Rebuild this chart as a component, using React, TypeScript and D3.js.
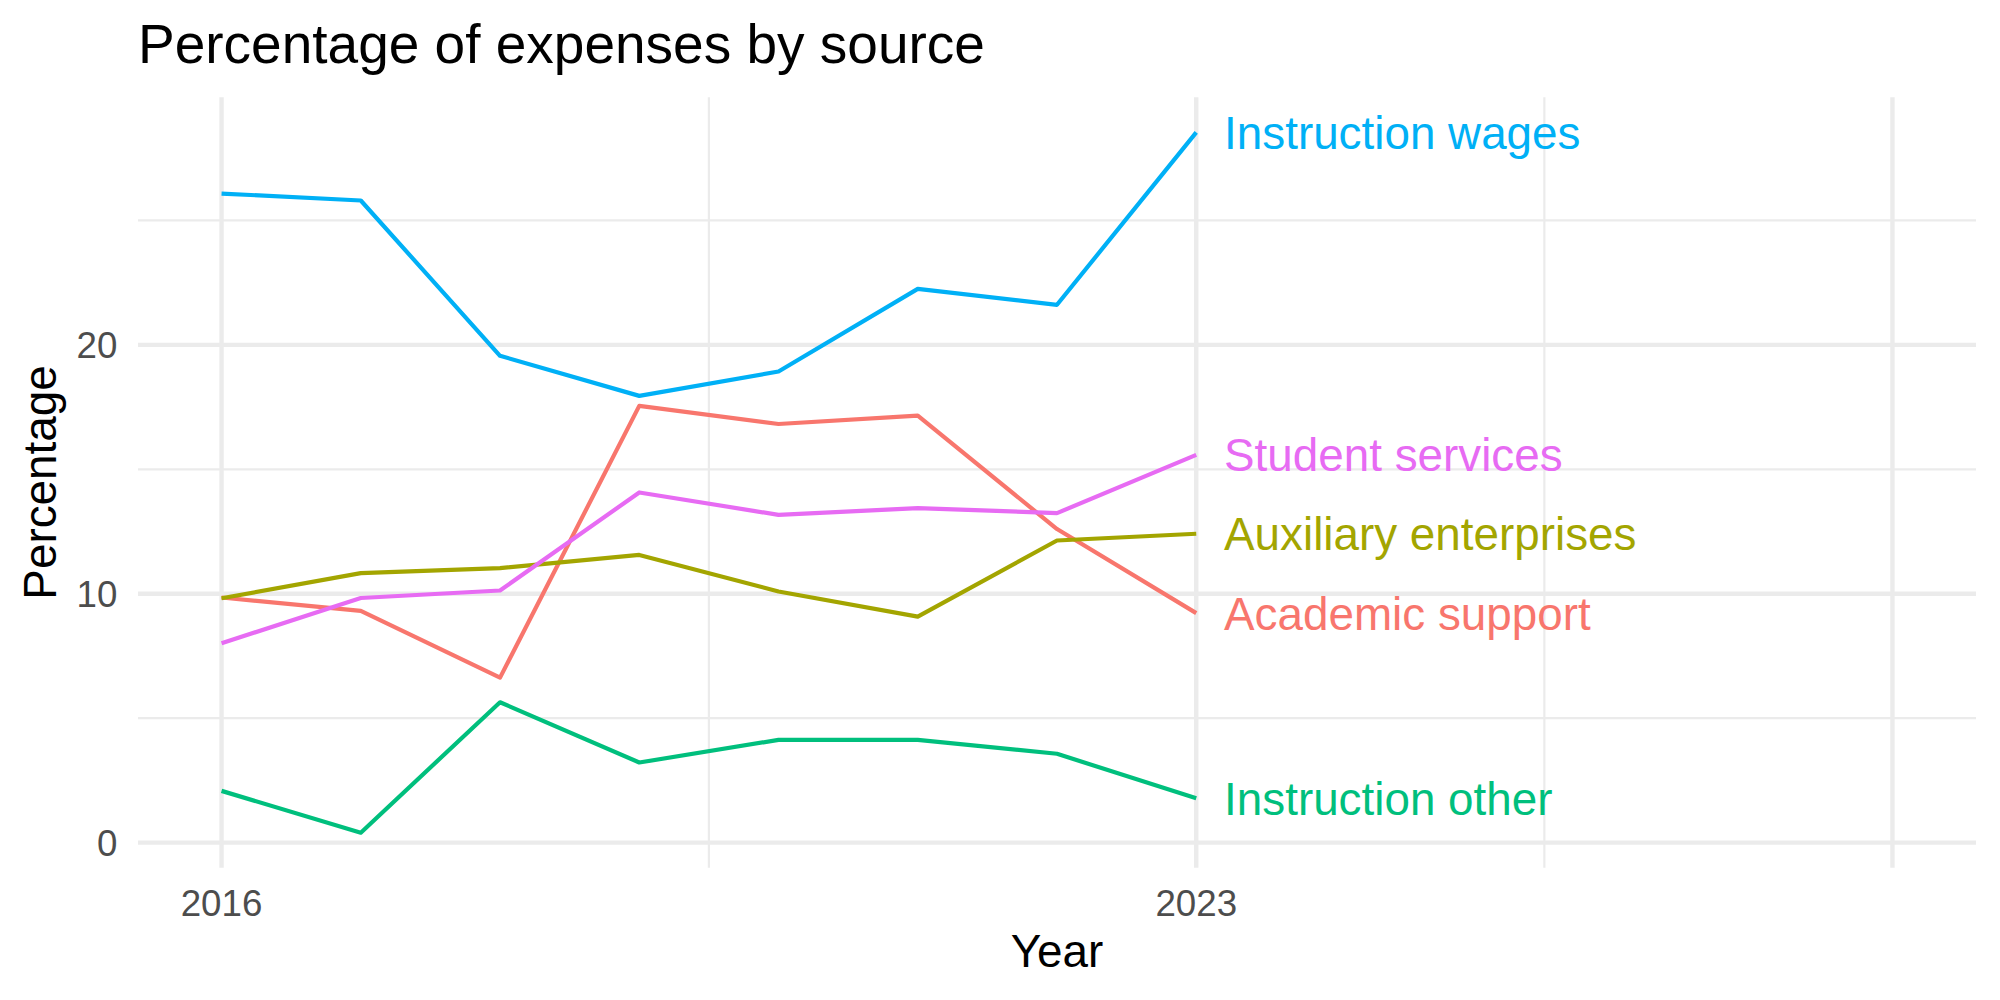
import React from "react";
import * as d3 from "d3";

// Share of expenses by source, 2016–2023
const years = [2016, 2017, 2018, 2019, 2020, 2021, 2022, 2023];
const sources = [
  "Academic support",
  "Auxiliary enterprises",
  "Instruction other",
  "Instruction wages",
  "Student services",
];
const academicSupport = [9.85, 9.31, 6.63, 17.55, 16.82, 17.16, 12.6, 9.22];
const auxiliaryEnterprises = [9.82, 10.83, 11.03, 11.56, 10.09, 9.08, 12.14, 12.41];
const instructionOther = [2.08, 0.4, 5.64, 3.22, 4.13, 4.13, 3.57, 1.78];
const instructionWages = [26.08, 25.8, 19.56, 17.95, 18.93, 22.25, 21.61, 28.54];
const studentServices = [8.01, 9.83, 10.13, 14.07, 13.17, 13.44, 13.24, 15.58];
const seriesValues = [
  academicSupport,
  auxiliaryEnterprises,
  instructionOther,
  instructionWages,
  studentServices,
];
const colors = ["#F8766D", "#A3A500", "#00BF7D", "#00B0F6", "#E76BF3"];

const xLimits = [2016, 2028];
const xMajor = [2016, 2023, 2028];
const xLabels = ["2016", "2023", ""];
const xMinor = [2019.5, 2025.5];
const yMajor = [0, 10, 20];
const yMinor = [5, 15, 25];
const labelYear = 2023.2;

const W = 2000;
const H = 1000;
const panel = { left: 138, right: 1976, top: 97.3, bottom: 867.7 };
const FONT = "'Liberation Sans', Arial, Helvetica, sans-serif";

export default function App() {
  const allVals = seriesValues.flat();
  const yMin = d3.min(allVals) as number;
  const yMax = d3.max(allVals) as number;
  const yPad = (yMax - yMin) * 0.05;
  const xPad = (xLimits[1] - xLimits[0]) * 0.05;

  const x = d3
    .scaleLinear()
    .domain([xLimits[0] - xPad, xLimits[1] + xPad])
    .range([panel.left, panel.right]);
  const y = d3
    .scaleLinear()
    .domain([yMin - yPad, yMax + yPad])
    .range([panel.bottom, panel.top]);

  const line = d3
    .line<number>()
    .x((_, i) => x(years[i]))
    .y((v) => y(v));

  const grid = "#EBEBEB";
  const lastIdx = years.length - 1;

  return (
    <svg
      width={W}
      height={H}
      viewBox={`0 0 ${W} ${H}`}
      style={{ position: "absolute", left: 0, top: 0, background: "#fff" }}
      fontFamily={FONT}
    >
      <rect x={0} y={0} width={W} height={H} fill="#fff" />

      {/* minor grid */}
      {yMinor.map((v) => (
        <line key={`ym${v}`} x1={panel.left} x2={panel.right} y1={y(v)} y2={y(v)} stroke={grid} strokeWidth={2.2} />
      ))}
      {xMinor.map((v) => (
        <line key={`xm${v}`} x1={x(v)} x2={x(v)} y1={panel.top} y2={panel.bottom} stroke={grid} strokeWidth={2.2} />
      ))}
      {/* major grid */}
      {yMajor.map((v) => (
        <line key={`yM${v}`} x1={panel.left} x2={panel.right} y1={y(v)} y2={y(v)} stroke={grid} strokeWidth={4.4} />
      ))}
      {xMajor.map((v) => (
        <line key={`xM${v}`} x1={x(v)} x2={x(v)} y1={panel.top} y2={panel.bottom} stroke={grid} strokeWidth={4.4} />
      ))}

      {/* series lines */}
      {seriesValues.map((vals, i) => (
        <path
          key={sources[i]}
          d={line(vals) || ""}
          fill="none"
          stroke={colors[i]}
          strokeWidth={4.2}
          strokeLinejoin="round"
        />
      ))}

      {/* direct labels at the last year */}
      {seriesValues.map((vals, i) => (
        <text
          key={`lab${i}`}
          x={x(labelYear)}
          y={y(vals[lastIdx])}
          dy="0.36em"
          fill={colors[i]}
          fontSize={45.8}
          textAnchor="start"
        >
          {sources[i]}
        </text>
      ))}

      {/* y axis tick labels */}
      {yMajor.map((v) => (
        <text key={`yt${v}`} x={117.4} y={y(v)} dy="0.36em" textAnchor="end" fontSize={36.7} fill="#4D4D4D">
          {v}
        </text>
      ))}
      {/* x axis tick labels */}
      {xMajor.map((v, i) => (
        <text key={`xt${v}`} x={x(v)} y={916} textAnchor="middle" fontSize={36.7} fill="#4D4D4D">
          {xLabels[i]}
        </text>
      ))}

      {/* axis titles */}
      <text x={(panel.left + panel.right) / 2} y={967} textAnchor="middle" fontSize={45.8} fill="#000">
        Year
      </text>
      <text
        transform={`translate(56, ${(panel.top + panel.bottom) / 2}) rotate(-90)`}
        textAnchor="middle"
        fontSize={45.8}
        fill="#000"
      >
        Percentage
      </text>

      {/* title */}
      <text x={panel.left} y={62.7} fontSize={55} fill="#000">
        Percentage of expenses by source
      </text>
    </svg>
  );
}
